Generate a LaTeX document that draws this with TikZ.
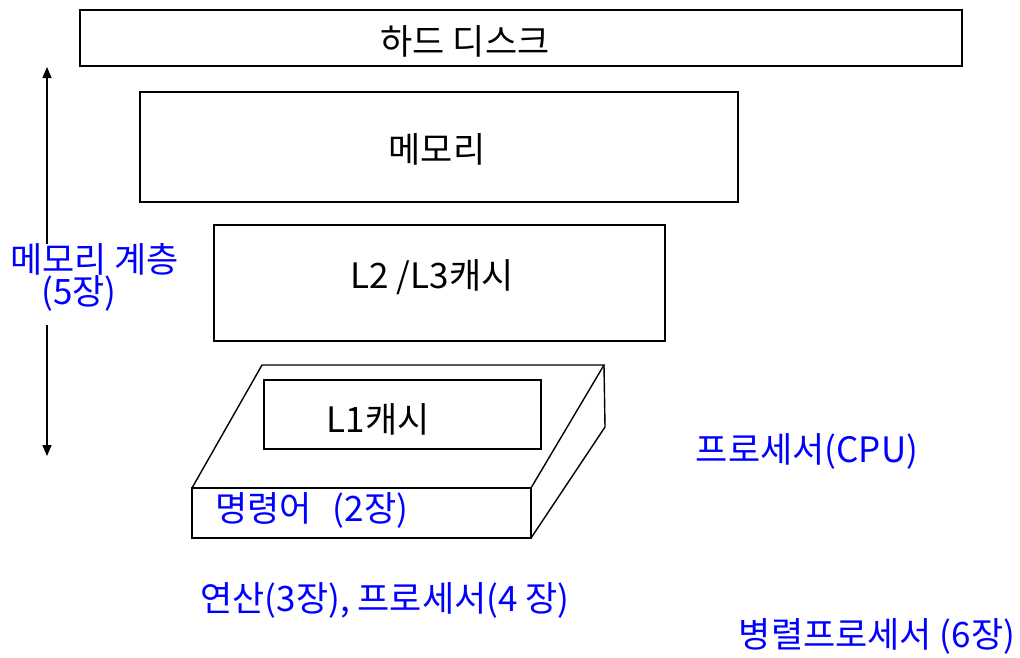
\documentclass[tikz,border=0pt]{standalone}
\usepackage{fontspec}
\setmainfont{Noto Sans CJK KR}
\usetikzlibrary{arrows.meta}
\definecolor{lblue}{RGB}{0,0,255}
\begin{document}
\begin{tikzpicture}[x=1pt,y=-1pt,
  box/.style={draw=black,line width=1.4pt,rectangle},
  txt/.style={font=\fontsize{35}{40}\selectfont,inner sep=0pt},
  btxt/.style={txt,text=lblue},
  arr/.style={line width=1.4pt,-{Triangle[length=11pt,width=9pt]}}]
\useasboundingbox (0,0) rectangle (1020,657);
% hard disk
\draw[box] (80,10) rectangle (962,66);
\node[txt] (hd) at (465,41) {하드 디스크};
% memory
\draw[box] (140,92) rectangle (738,202);
\node[txt] (mem) at (437,149) {메모리};
% L2/L3
\draw[box] (214,225) rectangle (665,341);
\node[txt] (l2) at (432,277) {L2 /L3캐시};
% 3D processor box
\draw[line width=1.4pt,line join=miter] (192,488) -- (262,365) -- (604,365) -- (531,488);
\draw[line width=1.4pt] (604,365) -- (605,427) -- (531,538);
\draw[box] (192,488) rectangle (531,538);
\draw[box] (264,380) rectangle (541,449);
\node[txt] (l1) at (378,419) {L1캐시};
\node[btxt,anchor=west] (ins) at (215,510) {명령어\hspace{0.6em}(2장)};
% memory hierarchy arrow
\node[btxt,font=\fontsize{35}{32}\selectfont,align=left,anchor=west] (mh) at (10,277) {메모리 계층\\\hspace*{31pt}(5장)};
\coordinate (atop) at (47,67);
\coordinate (abot) at (47,456);
\draw[arr] (47,244) -- (atop);
\draw[arr] (47,325) -- (abot);
% labels
\node[btxt] (cpu) at (807,451) {프로세서(CPU)};
\node[btxt] (alu) at (385,600) {연산(3장), 프로세서(4 장)};
\node[btxt] (par) at (877,636) {병렬프로세서 (6장)};
\end{tikzpicture}
\end{document}
